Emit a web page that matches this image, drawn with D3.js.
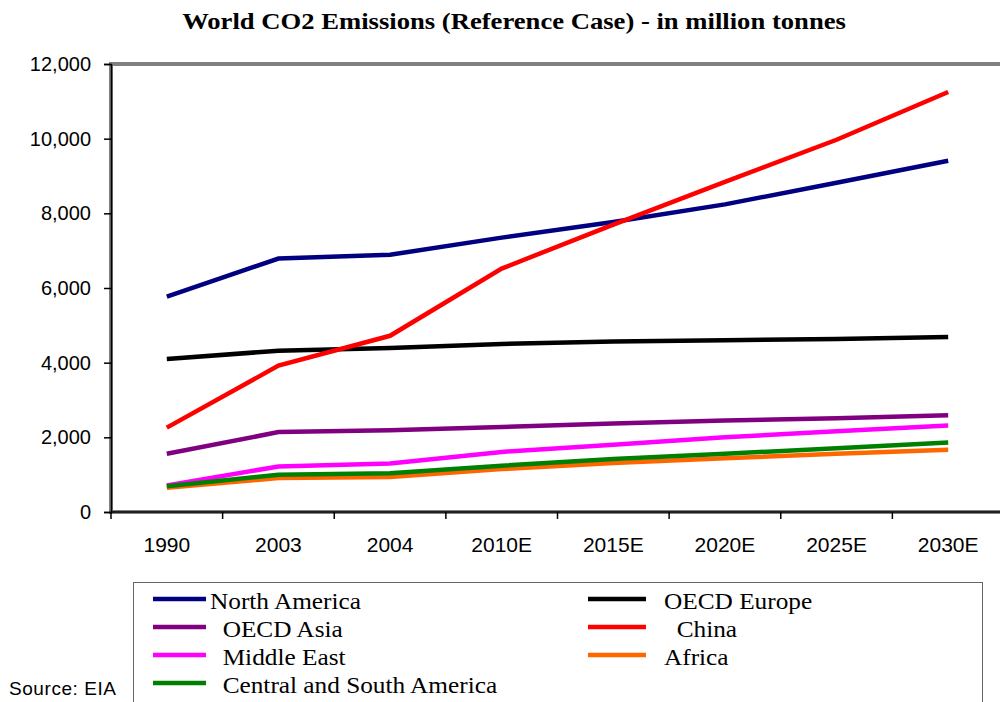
<!DOCTYPE html>
<html>
<head>
<meta charset="utf-8">
<script src="https://cdn.jsdelivr.net/npm/d3@7"></script>
<style>
  body { margin: 0; background: #fff; }
  svg { display: block; }
</style>
</head>
<body>
<svg id="chart" width="1000" height="702"></svg>
<script>
// categories (years, E = estimate)
const years = ['1990', '2003', '2004', '2010E', '2015E', '2020E', '2025E', '2030E']
const yTicks = [0, 2000, 4000, 6000, 8000, 10000, 12000]

// values in million tonnes
const northAmerica = [5770, 6790, 6890, 7350, 7770, 8240, 8820, 9410]
const oecdEurope = [4100, 4320, 4390, 4500, 4570, 4600, 4635, 4690]
const oecdAsia = [1560, 2140, 2190, 2280, 2370, 2450, 2510, 2590]
const china = [2260, 3920, 4720, 6520, 7700, 8840, 9970, 11250]
const middleEast = [710, 1220, 1300, 1610, 1800, 2000, 2160, 2320]
const africa = [650, 910, 940, 1150, 1310, 1440, 1560, 1670]
const centralSouth = [690, 1000, 1040, 1240, 1420, 1560, 1710, 1860]

// series in drawing order, with legend labels
const series = [
    { name: 'North America', label: 'North America', values: northAmerica, color: '#000080' },
    { name: 'OECD Europe', label: 'OECD Europe', values: oecdEurope, color: '#000000' },
    { name: 'OECD Asia', label: '  OECD Asia', values: oecdAsia, color: '#800080' },
    { name: 'China', label: '  China', values: china, color: '#FF0000' },
    { name: 'Middle East', label: '  Middle East', values: middleEast, color: '#FF00FF' },
    { name: 'Africa', label: 'Africa', values: africa, color: '#FF6600' },
    { name: 'Central and South America', label: '  Central and South America', values: centralSouth, color: '#008000' }
]
// legend order: left column then right column, row by row
const legendOrder = ['North America', 'OECD Europe', 'OECD Asia', 'China', 'Middle East', 'Africa', 'Central and South America']

const serif = '"Liberation Serif", "Times New Roman", serif'
const sans = '"Liberation Sans", Arial, sans-serif'

const svg = d3.select('#chart')
const plot = { left: 111, top: 64, right: 1004, bottom: 512 }

const x = d3.scaleBand().domain(years).range([plot.left, plot.right]).padding(0)
const y = d3.scaleLinear().domain([0, 12000]).range([plot.bottom, plot.top])

// 標題 (serif text in the picture is a bit wider than normal, hence the scale)
svg.append('text')
    .attr('transform', 'translate(514, 29) scale(1.11, 1)')
    .attr('text-anchor', 'middle')
    .attr('font-family', serif)
    .attr('font-weight', 'bold')
    .attr('font-size', '24px')
    .text('World CO2 Emissions (Reference Case) - in million tonnes')

// plot area border (gray)
svg.append('rect')
    .attr('x', plot.left).attr('y', plot.top)
    .attr('width', plot.right - plot.left).attr('height', plot.bottom - plot.top)
    .attr('fill', 'none')
    .attr('stroke', '#808080')
    .attr('stroke-width', 4)

// lines
const line = d3.line()
    .x((d, i) => x(years[i]) + x.bandwidth() / 2)
    .y((d) => y(d))

svg.append('g').selectAll('path')
    .data(series)
    .enter().append('path')
    .attr('d', (d) => line(d.values))
    .attr('fill', 'none')
    .attr('stroke', (d) => d.color)
    .attr('stroke-width', 4.5)

// y axis
const yAxis = svg.append('g')
    .attr('transform', `translate(${plot.left},0)`)
    .call(d3.axisLeft(y).tickValues(yTicks).tickFormat(d3.format(',')).tickSize(7).tickPadding(13))
yAxis.select('.domain').attr('stroke', '#000').attr('stroke-width', 1.5)
yAxis.selectAll('.tick line').attr('stroke', '#000').attr('stroke-width', 1.5)
yAxis.selectAll('.tick text')
    .attr('font-family', sans)
    .attr('font-size', '20px')
    .attr('fill', '#000')

// x axis: ticks at category boundaries
const bounds = years.map((d) => x(d)).concat([plot.right])
const xg = svg.append('g')
xg.append('line')
    .attr('x1', plot.left).attr('x2', plot.right)
    .attr('y1', plot.bottom).attr('y2', plot.bottom)
    .attr('stroke', '#000').attr('stroke-width', 1.5)
xg.selectAll('line.tick').data(bounds).enter().append('line')
    .attr('class', 'tick')
    .attr('x1', (d) => d).attr('x2', (d) => d)
    .attr('y1', plot.bottom).attr('y2', plot.bottom + 7)
    .attr('stroke', '#000').attr('stroke-width', 1.5)
xg.selectAll('text').data(years).enter().append('text')
    .attr('x', (d) => x(d) + x.bandwidth() / 2)
    .attr('y', 552)
    .attr('text-anchor', 'middle')
    .attr('font-family', sans)
    .attr('font-size', '21px')
    .text((d) => d)

// 圖例
svg.append('rect')
    .attr('x', 133.5).attr('y', 582.5)
    .attr('width', 849).attr('height', 140)
    .attr('fill', '#fff')
    .attr('stroke', '#666')
    .attr('stroke-width', 1)

const legend = svg.append('g').selectAll('g')
    .data(legendOrder.map((n) => series.find((s) => s.name === n)))
    .enter().append('g')
    .attr('transform', (d, i) => `translate(${i % 2 === 0 ? 153 : 588}, ${599 + Math.floor(i / 2) * 28})`)
legend.append('line')
    .attr('x1', 0).attr('x2', (d, i) => i % 2 === 0 ? 53 : 58)
    .attr('stroke', (d) => d.color)
    .attr('stroke-width', 4.5)
legend.append('text')
    .attr('transform', (d, i) => `translate(${i % 2 === 0 ? 57 : 76}, 10) scale(1.1, 1)`)
    .attr('xml:space', 'preserve')
    .style('white-space', 'pre')
    .attr('font-family', serif)
    .attr('font-size', '23px')
    .text((d) => d.label)

// source note
svg.append('text')
    .attr('x', 9).attr('y', 695)
    .attr('font-family', sans)
    .attr('font-size', '19px')
    .attr('textLength', 107)
    .text('Source: EIA')
</script>
</body>
</html>
